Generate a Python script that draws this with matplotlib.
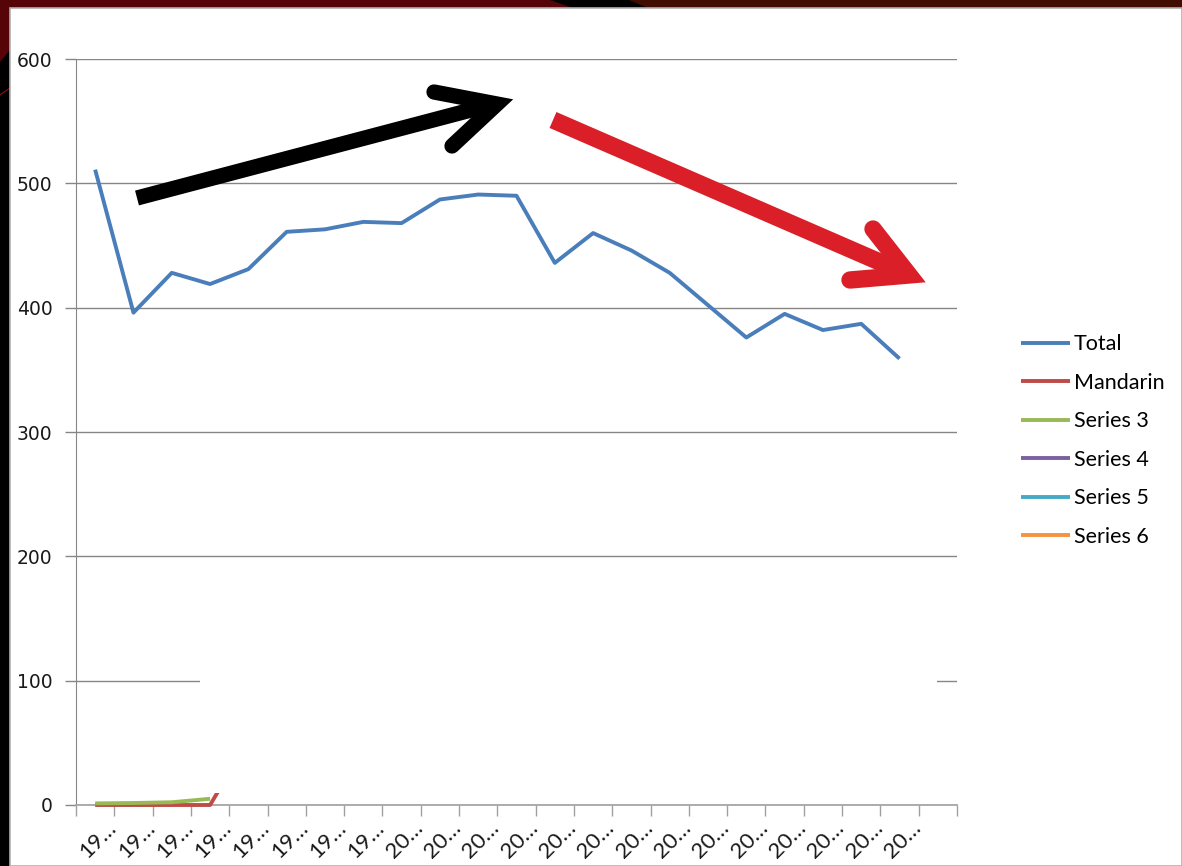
import matplotlib
matplotlib.use("Agg")
import matplotlib.pyplot as plt
import matplotlib.transforms as mtrans
from matplotlib.patches import Rectangle, Polygon
from matplotlib.lines import Line2D

# ---------------- data ----------------
years = [str(y) for y in range(1992, 2014)] + [""]
tick_labels = [y[:2] + "\u2026" if y else "" for y in years]
total = [511, 396, 428, 419, 431, 461, 463, 469, 468, 487, 491, 490,
         436, 460, 446, 428, 402, 376, 395, 382, 387, 359]
mandarin = [0, 0, 0, 0, 52]
series3 = [1.3, 1.6, 2.2, 5.0]
series4 = []
series5 = []
series6 = []
series_names = ["Total", "Mandarin", "Series 3", "Series 4", "Series 5", "Series 6"]
series_colors = ["#4A7EBB", "#BE4B48", "#98B954", "#7D60A0", "#46AAC5", "#F69240"]
y_ticks = [0, 100, 200, 300, 400, 500, 600]

W, H = 1182, 866
fig = plt.figure(figsize=(W / 100, H / 100), dpi=100, facecolor="black")

def px(x, y):
    return (x / W, 1 - y / H)

# slide background decorations
fig.add_artist(Polygon([px(0, 0), px(550, 0), px(573, 8), px(0, 8)], closed=True,
                       transform=fig.transFigure, facecolor="#560407", edgecolor="none", zorder=-10))
fig.add_artist(Polygon([px(629, 0), px(W, 0), px(W, 8), px(648, 8)], closed=True,
                       transform=fig.transFigure, facecolor="#410d01", edgecolor="none", zorder=-10))
fig.add_artist(Polygon([px(0, 0), px(10, 0), px(10, 50), px(0, 62)], closed=True,
                       transform=fig.transFigure, facecolor="#560407", edgecolor="none", zorder=-10))
fig.add_artist(Line2D([0, 10 / W], [1 - 95 / H, 1 - 88 / H], transform=fig.transFigure,
                      color="#8a1010", lw=0.8, zorder=-10))
# white slide area with thin gray border
fig.add_artist(Rectangle(px(10, H), (W - 10) / W, (H - 8) / H, transform=fig.transFigure,
                         facecolor="white", edgecolor="#b0b0b0", lw=1.2, zorder=-5))

ax = fig.add_axes([76 / W, 1 - 805 / H, (957 - 76) / W, (805 - 59) / H])
ax.set_facecolor("none")

n = len(years)
xs = list(range(1, n + 1))
data = [total, mandarin, series3, series4, series5, series6]
lines = []
for name, col, vals in zip(series_names, series_colors, data):
    ln, = ax.plot(xs[:len(vals)], vals, color=col, lw=2.8, label=name,
                  solid_joinstyle="round", solid_capstyle="butt", zorder=3, clip_on=False)
    lines.append(ln)

ax.set_xlim(0.5, n + 0.5)
ax.set_ylim(0, 600)
ax.set_yticks(y_ticks)
ax.set_yticklabels([str(v) for v in y_ticks], fontsize=13.5, color="#1a1a1a",
                   family="DejaVu Sans")
ax.yaxis.grid(True, color="#868686", lw=1.0, zorder=1)
ax.set_axisbelow(True)
ax.tick_params(axis="y", length=8, width=1, color="#868686", pad=9)

ax.set_xticks([i + 0.5 for i in range(0, n + 1)])
ax.set_xticklabels([])
ax.tick_params(axis="x", length=8, width=1, color="#a0a0a0")

for sp in ["top", "right"]:
    ax.spines[sp].set_visible(False)
ax.spines["left"].set_color("#868686")
ax.spines["bottom"].set_color("#a6a6a6")
ax.spines["bottom"].set_linewidth(1.3)

# rotated category labels
off = mtrans.ScaledTranslation(11 / 100, -13 / 100, fig.dpi_scale_trans)
for x, lab in zip(xs, tick_labels):
    if lab:
        ax.text(x, 0, lab, transform=ax.get_xaxis_transform() + off,
                rotation=45, rotation_mode="anchor", ha="right", va="top",
                fontsize=16, family="Lato", color="#1a1a1a")

# white box covering part of the plot (slide overlay)
ax.add_patch(Rectangle(((200 - 76) / 881, 12 / 746), (937 - 200) / 881, (805 - 600 - 12) / 746,
                       transform=ax.transAxes, facecolor="white", edgecolor="none", zorder=5))

# legend
leg = fig.legend(handles=lines, loc="upper left", bbox_to_anchor=(1002 / W, 1 - 315 / H),
                 frameon=False, handlelength=2.25, handletextpad=0.2,
                 labelspacing=0.86, prop={"family": "Lato", "size": 15.5})

# annotation arrows (pixel coordinates from top-left)
def pline(pts, color, lw, cap, join="miter"):
    xsp = [p[0] / W for p in pts]
    ysp = [1 - p[1] / H for p in pts]
    fig.add_artist(Line2D(xsp, ysp, transform=fig.transFigure, color=color, lw=lw,
                          solid_capstyle=cap, solid_joinstyle=join, zorder=10))

black = "#000000"
red = "#DA1F28"
pline([(137, 198), (490, 105)], black, 11, "butt")
pline([(434, 92), (497, 104), (452, 146)], black, 11, "round")
pline([(553, 120), (905, 273)], red, 12.5, "butt")
pline([(873, 229), (909, 275), (850, 280)], red, 12.5, "round")

fig.savefig("out.png", dpi=100, facecolor=fig.get_facecolor())
